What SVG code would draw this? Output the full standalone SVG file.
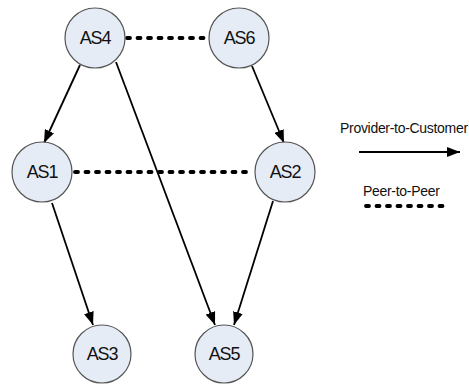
<svg xmlns="http://www.w3.org/2000/svg" width="469" height="385" viewBox="0 0 469 385">
  <style>
    .node circle { fill: #e6ecf6; stroke: #555; stroke-width: 1.2; }
    .node text { font-family: "Liberation Sans", Arial, sans-serif; font-size: 18px; letter-spacing: -1.2px; fill: #111; text-anchor: middle; dominant-baseline: central; }
    .p2c { stroke: #000; stroke-width: 1.8; fill: none; marker-end: url(#arrow); }
    .p2p { stroke: #000; stroke-width: 3.8; fill: none; stroke-linecap: round; stroke-dasharray: 3 7.5; }
    .legend { font-family: "Liberation Sans", Arial, sans-serif; font-size: 14px; letter-spacing: -0.3px; fill: #111; }
  </style>
  <defs>
    <marker id="arrow" viewBox="0 0 13 10" refX="13" refY="5" markerWidth="13" markerHeight="10" markerUnits="userSpaceOnUse" orient="auto">
      <path d="M0,0 L13,5 L0,10 z" fill="#000"/>
    </marker>
  </defs>
  <rect width="469" height="385" fill="#fff"/>

  <!-- links -->
  <g id="connectors">
    <line class="p2p" x1="127" y1="38" x2="208" y2="38"/>
    <line class="p2p" x1="75" y1="172" x2="253" y2="172"/>
    <line class="p2c" x1="80" y1="65" x2="44" y2="143"/>
    <line class="p2c" x1="252" y1="66" x2="284" y2="143"/>
    <line class="p2c" x1="116" y1="62" x2="215" y2="325"/>
    <line class="p2c" x1="52" y1="203" x2="93" y2="325"/>
    <line class="p2c" x1="273" y1="201" x2="234" y2="325"/>
  </g>

  <g id="AS4" class="node"><circle cx="95" cy="38" r="30"/><text x="95" y="38">AS4</text></g>
  <g id="AS6" class="node"><circle cx="239" cy="38" r="30"/><text x="239" y="38">AS6</text></g>
  <g id="AS1" class="node"><circle cx="42" cy="172" r="30"/><text x="42" y="172">AS1</text></g>
  <g id="AS2" class="node"><circle cx="285" cy="172" r="30"/><text x="285" y="172">AS2</text></g>
  <g id="AS3" class="node"><circle cx="102" cy="354" r="29"/><text x="102" y="354">AS3</text></g>
  <g id="AS5" class="node"><circle cx="224" cy="354" r="29"/><text x="224" y="354">AS5</text></g>

  <!-- legend -->
  <g id="legend">
    <text class="legend" x="340" y="133">Provider-to-Customer</text>
    <line class="p2c" x1="359" y1="152" x2="460" y2="152"/>
    <text class="legend" x="363" y="196">Peer-to-Peer</text>
    <line class="p2p" x1="366" y1="206" x2="448" y2="206"/>
  </g>
</svg>
